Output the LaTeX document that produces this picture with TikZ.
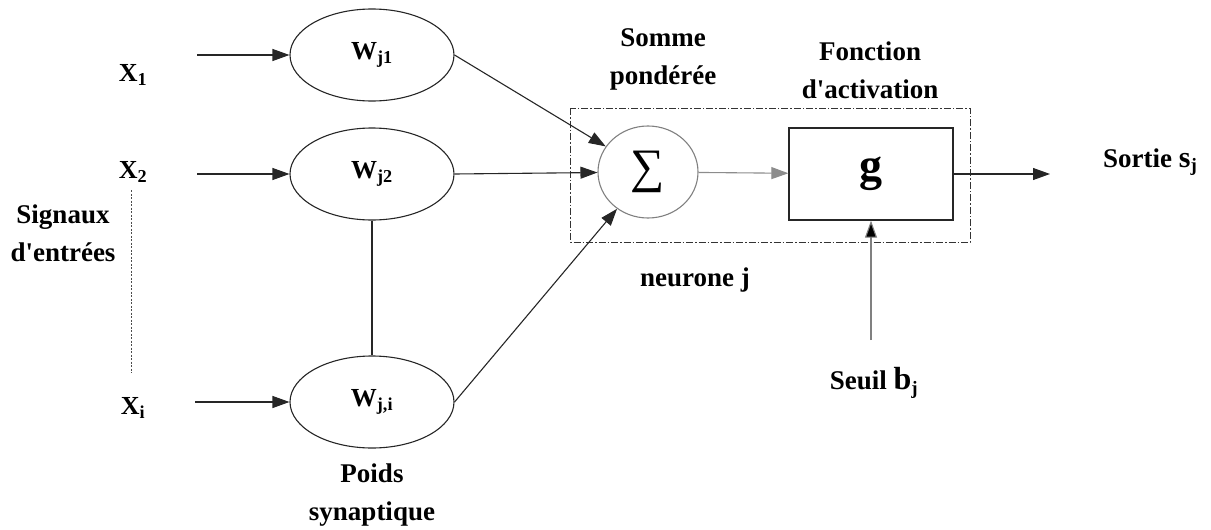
\documentclass[tikz,border=0pt]{standalone}
\usepackage{fontspec}
\setmainfont{Liberation Serif}
\usetikzlibrary{shapes.geometric,arrows.meta}
\begin{document}
\begin{tikzpicture}[x=1pt,y=-1pt,
  lbl/.style={font=\bfseries\fontsize{27}{38}\selectfont, align=center, inner sep=0pt},
  xlbl/.style={font=\bfseries\fontsize{26}{28}\selectfont, inner sep=0pt},
  wnode/.style={draw=black!85, line width=1.1pt, ellipse, minimum width=164pt, minimum height=92pt, inner sep=0pt, font=\bfseries\fontsize{26}{28}\selectfont},
  arr/.style={draw=black!85, line width=1.1pt, -{Triangle[length=17pt,width=12pt]}},
  garr/.style={draw=black!45, line width=1.1pt, -{Triangle[length=17pt,width=12pt,fill=black!45]}},
  ln/.style={draw=black!85, line width=1.1pt}]
\useasboundingbox (0,0) rectangle (1211,530);
% input labels
\node[xlbl] (x1) at (133,75) {X\textsubscript{1}};
\node[xlbl] (x2) at (133,172) {X\textsubscript{2}};
\node[xlbl] (xi) at (133,408) {X\textsubscript{i}};
\node[lbl] (sig) at (63,233) {Signaux\\d\textquotesingle entrées};
\coordinate (dtop) at (131,190);
\coordinate (dbot) at (131,373);
\draw[black!70, line width=0.9pt, dash pattern=on 2pt off 1.5pt] (dtop) -- (dbot);
% weights
\node[wnode] (w1) at (372,55) {W\textsubscript{j1}};
\node[wnode] (w2) at (372,174) {W\textsubscript{j2}};
\node[wnode] (wi) at (372,402) {W\textsubscript{j,i}};
\draw[arr, shorten <=50pt] (x1.east |- w1) -- (w1);
\draw[arr, shorten <=50pt] (x2.east |- w2) -- (w2);
\draw[arr, shorten <=50pt] (xi.east |- wi) -- (wi);
\draw[ln] (w2.south) -- (wi.north);
\node[lbl] (poids) at (372,495) {Poids\\synaptique};
% neuron
\node[draw=black!50, line width=1.1pt, ellipse, minimum width=100pt, minimum height=92pt, inner sep=0pt] (sum) at (648,172) {\fontsize{48}{48}\selectfont ∑};
\node[draw=black!85, line width=1.3pt, minimum width=164pt, minimum height=92pt, inner sep=0pt] (g) at (871,174) {\bfseries\fontsize{46}{46}\selectfont g};
\draw[black!80, line width=1pt, dash pattern=on 7pt off 2pt on 1.5pt off 2pt] (570,108) rectangle (970,242);
\node[lbl] (somme) at (663,59) {Somme\\pondérée};
\node[lbl] (fonc) at (870,70) {Fonction\\d\textquotesingle activation};
\node[lbl] (neur) at (695,280) {neurone j};
\draw[arr] (w1.east) -- (sum);
\draw[arr] (w2.east) -- (sum);
\draw[arr] (wi.east) -- (sum);
\draw[garr] (sum) -- (g);
% output
\coordinate (out) at (1050,174);
\draw[arr] (g.east) -- (out);
\node[lbl, anchor=west] (sortie) at (1103,162) {Sortie {\fontsize{30}{30}\selectfont s}\textsubscript{j}};
% threshold
\node[lbl] (seuil) at (874,383) {Seuil {\fontsize{32}{32}\selectfont b}\textsubscript{j}};
\coordinate (sb) at (871,340);
\draw[ln, black!50, -{Triangle[length=17pt,width=12pt,fill=black]}] (sb) -- (g.south);
\end{tikzpicture}
\end{document}
